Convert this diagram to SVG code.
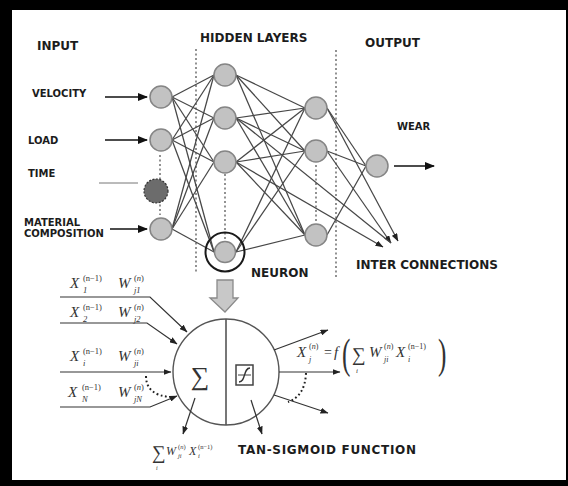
<svg xmlns="http://www.w3.org/2000/svg" width="568" height="486" viewBox="0 0 568 486">
<defs>
<marker id="ah" markerWidth="10" markerHeight="8" refX="9" refY="4" orient="auto" markerUnits="userSpaceOnUse">
<path d="M0,0 L10,4 L0,8 Z" fill="#111"/>
</marker>
<marker id="ahs" markerWidth="8" markerHeight="6" refX="7.5" refY="3" orient="auto" markerUnits="userSpaceOnUse">
<path d="M0,0 L8,3 L0,6 Z" fill="#222"/>
</marker>
</defs>
<style>
.lbl{font-family:"DejaVu Sans",Verdana,sans-serif;font-weight:bold;fill:#1c1c1c}
.h{font-size:12px}
.s{font-size:10px}
.m{font-family:"Liberation Serif","Times New Roman",serif;font-style:italic;fill:#333}
.mr{font-family:"Liberation Serif","Times New Roman",serif;fill:#333}
.node{fill:#c2c2c2;stroke:#858585;stroke-width:1.5}
.conn line{stroke:#474747;stroke-width:1.25}
.dot{stroke:#777;stroke-width:1.6;stroke-dasharray:2 2.5;fill:none}
.thin{stroke:#333;stroke-width:1.2;fill:none}
</style>
<rect x="0" y="0" width="568" height="486" fill="#000"/>
<rect x="12" y="10" width="554" height="470" fill="#fff"/>

<g id="labels">
<text class="lbl h" x="37" y="50">INPUT</text>
<text class="lbl h" x="200" y="42">HIDDEN LAYERS</text>
<text class="lbl h" x="365" y="47">OUTPUT</text>
<text class="lbl s" x="32" y="97">VELOCITY</text>
<text class="lbl s" x="28" y="144">LOAD</text>
<text class="lbl s" x="28" y="177">TIME</text>
<text class="lbl s" x="24" y="226">MATERIAL</text>
<text class="lbl s" x="24" y="237">COMPOSITION</text>
<text class="lbl s" x="397" y="130">WEAR</text>
<text class="lbl h" x="251" y="277">NEURON</text>
<text class="lbl h" x="356" y="269">INTER CONNECTIONS</text>
<text class="lbl h" x="238" y="454" textLength="178">TAN-SIGMOID FUNCTION</text>
</g>

<g id="guides">
<line class="dot" x1="196" y1="49" x2="196" y2="273"/>
<line class="dot" x1="336" y1="50" x2="336" y2="277"/>
<line class="dot" x1="160" y1="155" x2="160" y2="215"/>
<line class="dot" x1="225" y1="174" x2="225" y2="239"/>
<line class="dot" x1="316" y1="165" x2="316" y2="222"/>
</g>

<g id="connectors" class="conn">
<line x1="172" y1="97" x2="214" y2="75"/>
<line x1="172" y1="97" x2="214" y2="118"/>
<line x1="172" y1="97" x2="214" y2="162"/>
<line x1="172" y1="97" x2="214" y2="252"/>
<line x1="172" y1="140" x2="214" y2="75"/>
<line x1="172" y1="140" x2="214" y2="118"/>
<line x1="172" y1="140" x2="214" y2="162"/>
<line x1="172" y1="140" x2="214" y2="252"/>
<line x1="172" y1="229" x2="214" y2="75"/>
<line x1="172" y1="229" x2="214" y2="118"/>
<line x1="172" y1="229" x2="214" y2="162"/>
<line x1="172" y1="229" x2="214" y2="252"/>
<line x1="236" y1="75" x2="305" y2="108"/>
<line x1="236" y1="75" x2="305" y2="151"/>
<line x1="236" y1="75" x2="305" y2="235"/>
<line x1="236" y1="118" x2="305" y2="108"/>
<line x1="236" y1="118" x2="305" y2="151"/>
<line x1="236" y1="118" x2="305" y2="235"/>
<line x1="236" y1="162" x2="305" y2="108"/>
<line x1="236" y1="162" x2="305" y2="151"/>
<line x1="236" y1="162" x2="305" y2="235"/>
<line x1="236" y1="252" x2="305" y2="108"/>
<line x1="236" y1="252" x2="305" y2="151"/>
<line x1="236" y1="252" x2="305" y2="235"/>
<line x1="327" y1="108" x2="366" y2="166"/>
<line x1="327" y1="151" x2="366" y2="166"/>
<line x1="327" y1="235" x2="366" y2="166"/>
<line x1="327" y1="108" x2="398" y2="241" marker-end="url(#ahs)"/>
<line x1="327" y1="151" x2="391" y2="243" marker-end="url(#ahs)"/>
<line x1="236" y1="118" x2="391" y2="243"/>
<line x1="236" y1="162" x2="383" y2="247" marker-end="url(#ahs)"/>
<line x1="105" y1="97" x2="147" y2="97" marker-end="url(#ah)" style="stroke:#111;stroke-width:1.4"/>
<line x1="105" y1="140" x2="147" y2="140" marker-end="url(#ah)" style="stroke:#111;stroke-width:1.4"/>
<line x1="110" y1="229" x2="147" y2="229" marker-end="url(#ah)" style="stroke:#111;stroke-width:1.4"/>
<line x1="99" y1="183" x2="138" y2="183" style="stroke:#777;stroke-width:1"/>
<line x1="394" y1="166" x2="434" y2="166" marker-end="url(#ah)" style="stroke:#111;stroke-width:1.4"/>
</g>

<g id="n-velocity"><circle class="node" cx="161" cy="97" r="11"/></g>
<g id="n-load"><circle class="node" cx="161" cy="140" r="11"/></g>
<g id="n-time"><circle cx="156" cy="191" r="12" fill="#6c6c6c" stroke="#333" stroke-width="1.2" stroke-dasharray="2 1.5"/></g>
<g id="n-material"><circle class="node" cx="161" cy="229" r="11"/></g>
<g id="n-h1a"><circle class="node" cx="225" cy="75" r="11"/></g>
<g id="n-h1b"><circle class="node" cx="225" cy="118" r="11"/></g>
<g id="n-h1c"><circle class="node" cx="225" cy="162" r="11"/></g>
<g id="n-neuron">
<circle cx="225" cy="252" r="19.5" fill="none" stroke="#1a1a1a" stroke-width="2"/>
<circle class="node" cx="225" cy="252" r="10.5"/>
</g>
<g id="n-h2a"><circle class="node" cx="316" cy="108" r="11"/></g>
<g id="n-h2b"><circle class="node" cx="316" cy="151" r="11"/></g>
<g id="n-h2c"><circle class="node" cx="316" cy="235" r="11"/></g>
<g id="n-output"><circle class="node" cx="377" cy="166" r="11"/></g>

<g id="down-arrow">
<path d="M217,280 L233,280 L233,298 L238,298 L225,312 L210,298 L217,298 Z" fill="#c8c8c8" stroke="#8a8a8a" stroke-width="1.3"/>
</g>

<g id="neuron-detail">
<circle cx="226" cy="372" r="53" fill="#fff" stroke="#555" stroke-width="1.4"/>
<line x1="226" y1="319" x2="226" y2="425" stroke="#555" stroke-width="1.6"/>
<text class="mr" x="200" y="385" font-size="26" text-anchor="middle">∑</text>
<rect x="236" y="365" width="17" height="20" fill="none" stroke="#444" stroke-width="1.5"/>
<line x1="238" y1="375" x2="251" y2="375" stroke="#444" stroke-width="1"/>
<path d="M239,382 C246,382 243,368 250,368" fill="none" stroke="#333" stroke-width="1.3"/>
</g>

<g id="neuron-inputs">
<path class="thin" d="M60,297 L150,297 L187,332" marker-end="url(#ahs)"/>
<path class="thin" d="M60,323 L147,323 L177,344" marker-end="url(#ahs)"/>
<path class="thin" d="M60,372 L171,372" marker-end="url(#ahs)"/>
<path class="thin" d="M60,407 L150,407 L177,396" marker-end="url(#ahs)"/>
<path d="M146,376 Q146,395 170,397" fill="none" stroke="#222" stroke-width="2" stroke-dasharray="1.8 2.6"/>
</g>

<g id="neuron-outputs">
<line class="thin" x1="274" y1="350" x2="328" y2="330" marker-end="url(#ahs)"/>
<line class="thin" x1="279" y1="372" x2="340" y2="372" marker-end="url(#ahs)"/>
<line class="thin" x1="274" y1="395" x2="328" y2="413" marker-end="url(#ahs)"/>
<path d="M306,373 Q305,396 288,402" fill="none" stroke="#222" stroke-width="2" stroke-dasharray="1.8 2.6"/>
<line class="thin" x1="195" y1="398" x2="183" y2="434" marker-end="url(#ahs)"/>
<line class="thin" x1="251" y1="400" x2="262" y2="434" marker-end="url(#ahs)"/>
</g>

<g id="math-inputs">
<text class="m" x="70" y="288" font-size="15">X</text>
<text class="mr" x="83" y="281" font-size="8.5">(n−1)</text>
<text class="m" x="83" y="293" font-size="8.5">1</text>
<text class="m" x="118" y="288" font-size="15">W</text>
<text class="mr" x="134" y="281" font-size="8.5">(<tspan class="m">n</tspan>)</text>
<text class="m" x="134" y="293" font-size="8.5">j1</text>

<text class="m" x="70" y="317" font-size="15">X</text>
<text class="mr" x="83" y="310" font-size="8.5">(n−1)</text>
<text class="m" x="83" y="322" font-size="8.5">2</text>
<text class="m" x="118" y="317" font-size="15">W</text>
<text class="mr" x="134" y="310" font-size="8.5">(<tspan class="m">n</tspan>)</text>
<text class="m" x="134" y="322" font-size="8.5">j2</text>

<text class="m" x="70" y="361" font-size="15">X</text>
<text class="mr" x="83" y="354" font-size="8.5">(n−1)</text>
<text class="m" x="83" y="366" font-size="8.5">i</text>
<text class="m" x="118" y="361" font-size="15">W</text>
<text class="mr" x="134" y="354" font-size="8.5">(<tspan class="m">n</tspan>)</text>
<text class="m" x="134" y="366" font-size="8.5">ji</text>

<text class="m" x="68" y="397" font-size="15">X</text>
<text class="mr" x="82" y="390" font-size="8.5">(n−1)</text>
<text class="m" x="82" y="402" font-size="8.5">N</text>
<text class="m" x="118" y="397" font-size="15">W</text>
<text class="mr" x="134" y="390" font-size="8.5">(<tspan class="m">n</tspan>)</text>
<text class="m" x="134" y="402" font-size="8.5">jN</text>
</g>

<g id="math-output">
<text class="m" x="297" y="357" font-size="15">X</text>
<text class="mr" x="309" y="349" font-size="8">(<tspan class="m">n</tspan>)</text>
<text class="m" x="309" y="362" font-size="8">j</text>
<text class="mr" x="324" y="357" font-size="14">=</text>
<text class="m" x="334" y="357" font-size="15">f</text>
<text class="mr" x="342" y="368" font-size="42" transform="translate(342,368) scale(0.6,1) translate(-342,-368)">(</text>
<text class="mr" x="352" y="361" font-size="19">∑</text>
<text class="m" x="356" y="373" font-size="7">i</text>
<text class="m" x="369" y="357" font-size="15">W</text>
<text class="mr" x="384" y="349" font-size="8">(<tspan class="m">n</tspan>)</text>
<text class="m" x="384" y="362" font-size="8">ji</text>
<text class="m" x="396" y="357" font-size="15">X</text>
<text class="mr" x="408" y="349" font-size="8">(n−1)</text>
<text class="m" x="408" y="362" font-size="8">i</text>
<text class="mr" x="438" y="368" font-size="42" transform="translate(438,368) scale(0.6,1) translate(-438,-368)">)</text>
</g>

<g id="math-bottom">
<text class="mr" x="152" y="459" font-size="19">∑</text>
<text class="m" x="156" y="470" font-size="6">i</text>
<text class="m" x="166" y="455" font-size="12">W</text>
<text class="mr" x="178" y="449" font-size="6.5">(<tspan class="m">n</tspan>)</text>
<text class="m" x="178" y="458" font-size="6.5">ji</text>
<text class="m" x="189" y="455" font-size="12">X</text>
<text class="mr" x="198" y="449" font-size="6.5">(n−1)</text>
<text class="m" x="198" y="458" font-size="6.5">i</text>
</g>
</svg>
